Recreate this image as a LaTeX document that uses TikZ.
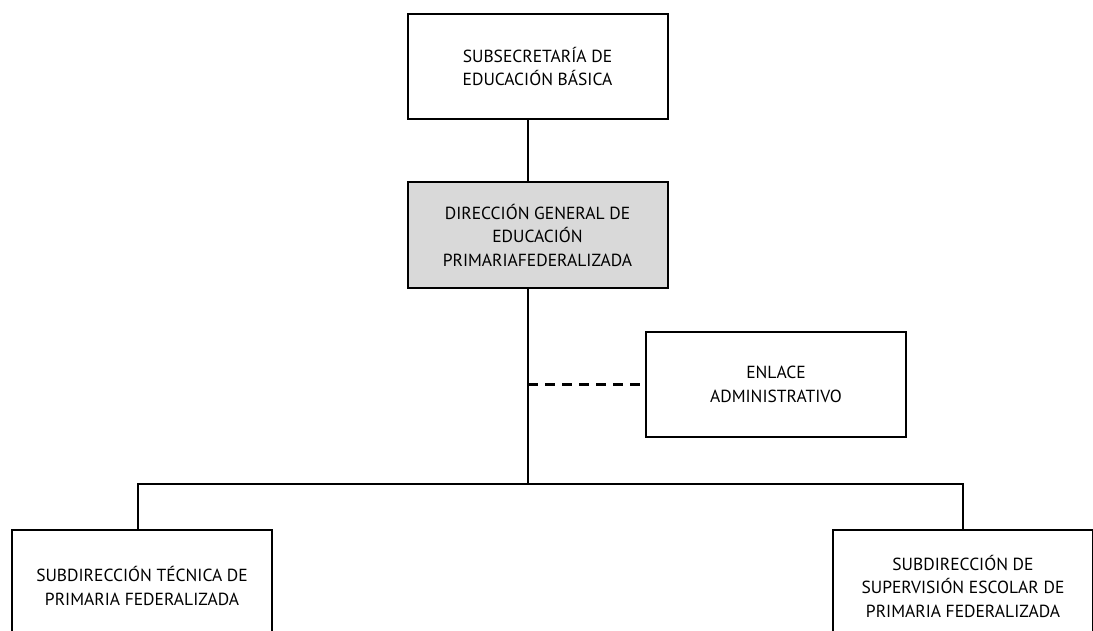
\documentclass[tikz,border=0pt]{standalone}
\usepackage{fontspec}
\setmainfont{PT Sans}
\usetikzlibrary{positioning}
\definecolor{gris}{HTML}{D9D9D9}
\tikzset{
  caja/.style={draw, line width=2pt, minimum width=260pt, inner sep=0pt,
    align=center, font=\fontsize{17.5}{23.5}\selectfont},
  liga/.style={line width=2pt},
}

\begin{document}
\begin{tikzpicture}[x=1pt,y=-1pt]
	\useasboundingbox (0,0) rectangle (1093,631);
	\clip (0,0) rectangle (1093,631);

	\node[caja, minimum height=105pt] (SEB) at (537.5,66.5) {SUBSECRETARÍA DE\\EDUCACIÓN BÁSICA};
	\node[caja, fill=gris, minimum height=106pt] (DGEPF) at (537.5,235) {DIRECCIÓN GENERAL DE\\EDUCACIÓN\\PRIMARIAFEDERALIZADA};
	\node[caja, minimum height=105pt] (EA) at (776,384.5) {ENLACE\\ADMINISTRATIVO};
	\node[caja, minimum height=112pt] (STPF) at (142,586) {SUBDIRECCIÓN TÉCNICA DE\\PRIMARIA FEDERALIZADA};
	\node[caja, minimum height=112pt] (SSEPF) at (963,586) {SUBDIRECCIÓN DE\\SUPERVISIÓN ESCOLAR DE\\PRIMARIA FEDERALIZADA};

	\coordinate (T) at (528,484);

	\draw[liga] (SEB.south -| T) -- (DGEPF.north -| T);
	\draw[liga] (DGEPF.south -| T) -- (T);
	\draw[liga, line width=2.5pt, dash pattern=on 10pt off 7pt] (EA.west -| T) -- (EA.west);
	\draw[liga] ([xshift=-4pt]STPF.north) |- (T) -| (SSEPF.north);
\end{tikzpicture}
\end{document}
